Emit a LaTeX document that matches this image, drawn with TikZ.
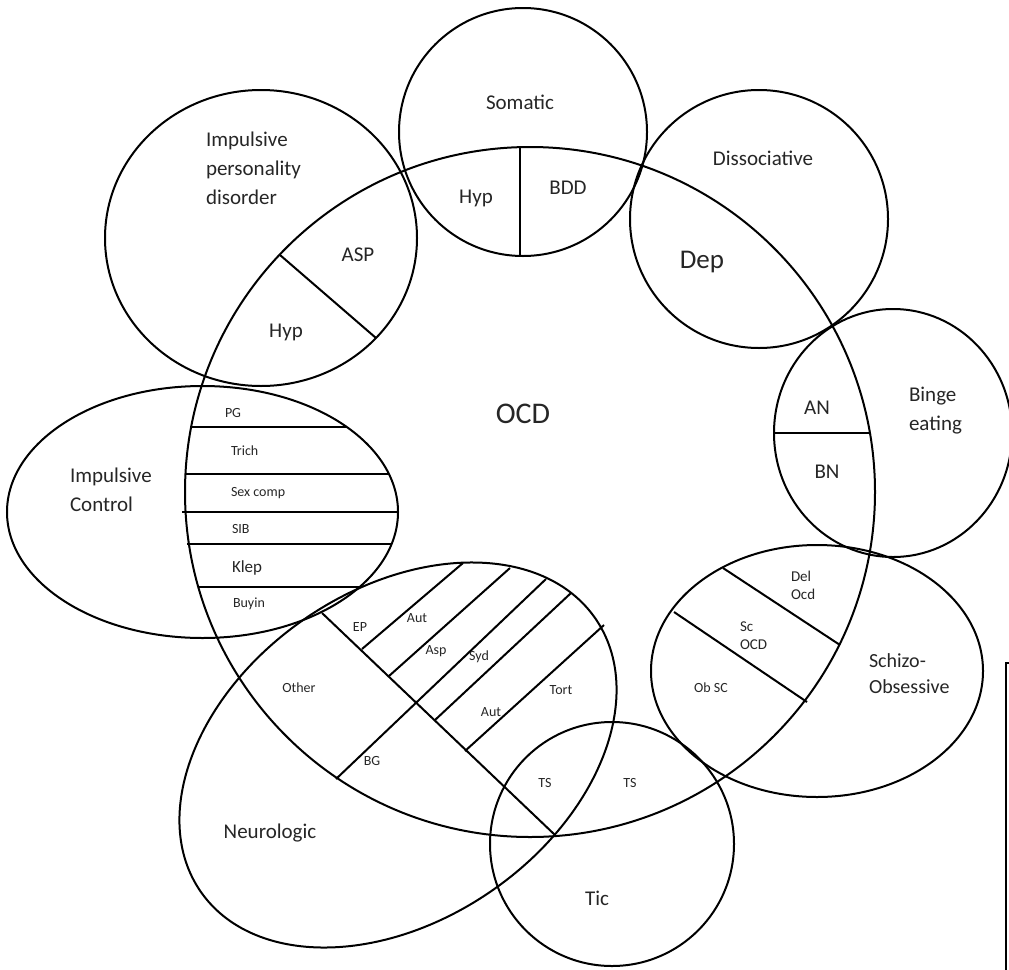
\documentclass[tikz,border=0pt]{standalone}
\usepackage{fontspec}
\setmainfont{Carlito}
\begin{document}
\begin{tikzpicture}[x=1pt,y=-1pt,line width=2pt,
  lbl/.style={inner sep=0pt,font=\fontsize{21}{29}\selectfont,align=left,text=black!85},
  sm/.style={inner sep=0pt,font=\fontsize{14}{18}\selectfont,align=left,text=black!85}]
\useasboundingbox (0,0) rectangle (1009,969);

\draw (530,492) circle (345);
\draw (523,132) circle (124);
\draw (759,219) circle (129);
\draw (893,433) ellipse (119 and 124);
\draw (817,671) ellipse (166 and 126);
\draw (612,844) circle (122);
\draw[rotate around={34.7:(398,755)}] (398,755) ellipse (240 and 165);
\draw (202.5,512) ellipse (195.5 and 126);
\draw (261,238) ellipse (156 and 148);

\draw (1006,975) -- (1006,663) -- (1015,663);


\draw (520,147) -- (520,256);
\draw (280,255) -- (376,338);

\draw (191,427) -- (347,427);
\draw (185,474) -- (389,474);
\draw (182,512) -- (398,512);
\draw (187,544) -- (391,544);
\draw (198,587) -- (359,587);

\draw (774,433) -- (870,433);

\draw (723,568) -- (840,645);
\draw (674,612) -- (807,702);

\draw (322,613) -- (555,835);
\draw (362,649) -- (463,563);
\draw (389,676) -- (510,568);
\draw (336,779) -- (546,579);
\draw (435,720) -- (571,593);
\draw (465,751) -- (604,625);


\node[lbl] (somatic) at (520,102) {Somatic};
\node[lbl] (hypsom) at (476,198) {Hyp};
\node[lbl] (bdd) at (568,188) {BDD};
\node[lbl] (dissoc) at (763,158) {Dissociative};
\node[lbl,font=\fontsize{27}{32}\selectfont] (dep) at (702,262) {Dep};
\node[lbl,anchor=west] (imppers) at (205,168) {Impulsive\\personality\\disorder};
\node[lbl] (asp) at (358,255) {ASP};
\node[lbl] (hypimp) at (286,332) {Hyp};
\node[lbl,font=\fontsize{30}{36}\selectfont] (ocd) at (523,414) {OCD};
\node[lbl,anchor=west] (impctrl) at (69,490) {Impulsive\\Control};

\node[sm,anchor=west] (pg) at (224,413) {PG};
\node[sm,anchor=west] (trich) at (230,451) {Trich};
\node[sm,anchor=west] (sexcomp) at (230,493) {Sex comp};
\node[sm,anchor=west] (sib) at (231,529) {SIB};
\node[sm,anchor=west,font=\fontsize{17}{20}\selectfont] (klep) at (231,568) {Klep};
\node[sm,anchor=west] (buyin) at (232,604) {Buyin};

\node[lbl] (an) at (817,408) {AN};
\node[lbl] (bn) at (827,472) {BN};
\node[lbl,anchor=west] (binge) at (908,411) {Binge\\eating};

\node[sm,anchor=west,font=\fontsize{15}{18}\selectfont] (delocd) at (790,585) {Del\\Ocd};
\node[sm,anchor=west,font=\fontsize{15}{18}\selectfont] (scocd) at (739,636) {Sc\\OCD};
\node[sm] (obsc) at (711,688) {Ob SC};
\node[lbl,anchor=west,font=\fontsize{20}{26}\selectfont] (schizo) at (868,674) {Schizo-\\Obsessive};

\node[sm] (ep) at (360,627) {EP};
\node[sm] (aut) at (417,618) {Aut};
\node[sm] (asp2) at (436,651) {Asp};
\node[sm] (syd) at (479,657) {Syd};
\node[sm] (aut2) at (491,712) {Aut};
\node[sm] (tort) at (561,690) {Tort};
\node[sm] (other) at (299,688) {Other};
\node[sm] (bg) at (372,761) {BG};
\node[sm] (tsa) at (545,783) {TS};
\node[sm] (tsb) at (630,783) {TS};
\node[lbl] (neuro) at (270,833) {Neurologic};
\node[lbl] (tic) at (597,898) {Tic};
\end{tikzpicture}
\end{document}
